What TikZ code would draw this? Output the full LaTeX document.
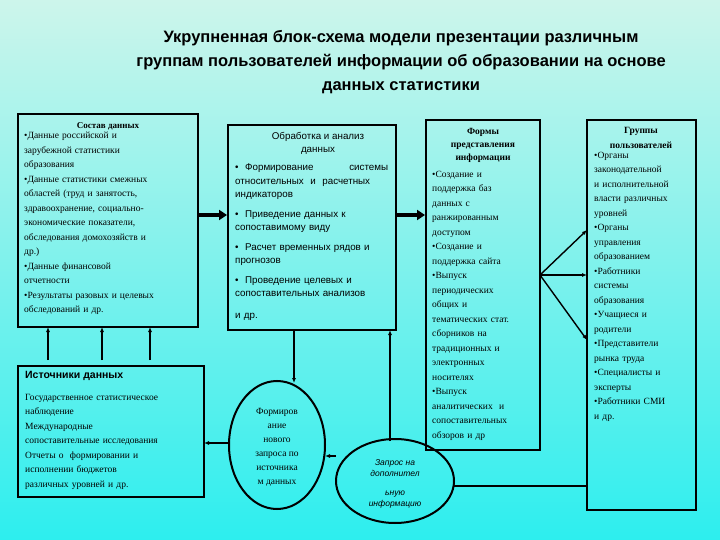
\documentclass[tikz,border=0pt]{standalone}
\usepackage{fontspec}
\setmainfont{Liberation Serif}
\newfontfamily\arialf{Liberation Sans}
\usetikzlibrary{arrows.meta}
\begin{document}
\begin{tikzpicture}[x=1pt,y=-1pt,
  box/.style={draw,line width=1.6pt},
  txt/.style={anchor=north west,align=left,inner sep=0pt,font=\fontsize{9.5}{14.5}\selectfont},
  stxt/.style={anchor=north west,align=left,inner sep=0pt,font=\arialf\fontsize{9.8}{13.5}\selectfont},
  con/.style={line width=1.4pt,-{Latex[length=5pt,width=4pt]}},
  thick arr/.style={line width=3.5pt,-{Triangle[length=8pt,width=10pt]}},
  ln/.style={line width=1.4pt}]
\useasboundingbox (0,0) rectangle (720,540);
\shade[top color={rgb,255:red,205;green,245;blue,235}, bottom color={rgb,255:red,45;green,238;blue,238}] (0,0) rectangle (720,540);
\node[font=\arialf\bfseries\fontsize{16.5}{24}\selectfont,align=center] (title) at (401,62) {Укрупненная блок-схема модели презентации различным\\группам пользователей информации об образовании на основе\\данных статистики};
% boxes
\draw[box] (18,114) rectangle (198,327);
\node[font=\bfseries\fontsize{9}{11}\selectfont] (sostavH) at (108,126) {Состав данных};
\node[txt,text width=175] (sostav) at (24,132) {•Данные российской и\\зарубежной статистики\\образования\\•Данные статистики смежных\\областей (труд и занятость,\\здравоохранение, социально-\\экономические показатели,\\обследования домохозяйств и\\др.)\\•Данные финансовой\\отчетности\\•Результаты разовых и целевых\\обследований и др.};
\draw[box] (228,125) rectangle (396,330);
\node[font=\arialf\fontsize{9.8}{13}\selectfont,align=center] (obrH) at (318,143) {Обработка и анализ\\данных};
\node[stxt,text width=153] (obr) at (235,164) {•\ \ Формирование\hfill системы\\относительных\ \ и\ \ расчетных\\индикаторов\\[6pt]•\ \ Приведение данных к\\сопоставимому виду\\[6pt]•\ \ Расчет временных рядов и\\прогнозов\\[6pt]•\ \ Проведение целевых и\\сопоставительных анализов\\[8pt]и др.};
\draw[box] (426,120) rectangle (540,450);
\node[font=\bfseries\fontsize{9.5}{13}\selectfont,align=center] (formH) at (483,145) {Формы\\представления\\информации};
\node[txt,text width=110] (form) at (432,171) {•Создание и\\поддержка баз\\данных с\\ранжированным\\доступом\\•Создание и\\поддержка сайта\\•Выпуск\\периодических\\общих и\\тематических стат.\\сборников на\\традиционных и\\электронных\\носителях\\•Выпуск\\аналитических\ \ и\\сопоставительных\\обзоров и др};
\draw[box] (587,120) rectangle (696,510);
\node[font=\bfseries\fontsize{9.5}{14.5}\selectfont,align=center] (grH) at (641,138) {Группы\\пользователей};
\node[txt,text width=106] (gr) at (594,152) {•Органы\\законодательной\\и исполнительной\\власти различных\\уровней\\•Органы\\управления\\образованием\\•Работники\\системы\\образования\\•Учащиеся и\\родители\\•Представители\\рынка труда\\•Специалисты и\\эксперты\\•Работники СМИ\\и др.};
\draw[box] (18,366) rectangle (204,497);
\node[anchor=north west,inner sep=0pt,font=\arialf\bfseries\fontsize{10.5}{12}\selectfont] (istH) at (25,371) {Источники данных};
\node[txt,text width=180] (ist) at (25,394) {Государственное статистическое\\наблюдение\\Международные\\сопоставительные исследования\\Отчеты о\ \ формировании и\\исполнении бюджетов\\различных уровней и др.};
% circle & ellipse
\draw[line width=2pt] (277,445) ellipse [x radius=48,y radius=64];
\coordinate (circT) at (294,383); \coordinate (circL) at (229,443); \coordinate (circR) at (325,456);
\node[font=\fontsize{9.5}{14}\selectfont,align=center] (circ) at (277,447) {Формиров\\ание\\нового\\запроса по\\источника\\м данных};
\draw[line width=2pt] (395,481) ellipse [x radius=59,y radius=42];
\coordinate (ellL) at (336,456); \coordinate (ellT) at (390,441); \coordinate (ellR) at (453,486);
\node[font=\arialf\itshape\fontsize{8.5}{11}\selectfont,align=center] (ell) at (395,484) {Запрос на\\дополнител\\[8pt]ьную\\информацию};
% connectors
\draw[thick arr] (198,215) -- (227,215);
\draw[thick arr] (396,215) -- (425,215);
\foreach \x in {48,102,150} \draw[con] (\x,360) -- (\x,327);
\draw[con] (294,330) -- (circT);
\draw[con] (circL) -- (204,443);
\draw[con] (ellL) -- (circR);
\draw[con] (ellT) -- (390,330);
\draw[ln] (ellR) -- (587,486);
\draw[con] (540,275) -- (587,230);
\draw[con] (540,275) -- (587,275);
\draw[con] (540,275) -- (587,340);
\end{tikzpicture}
\end{document}
